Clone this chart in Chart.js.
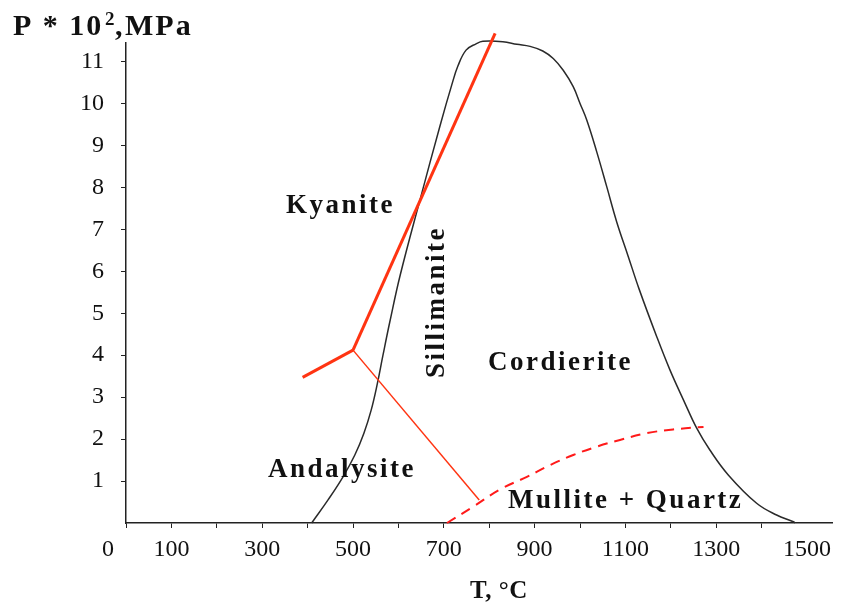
<!DOCTYPE html>
<html>
<head>
<meta charset="utf-8">
<script src="https://cdn.jsdelivr.net/npm/chart.js@4.4.1/dist/chart.umd.min.js"></script>
<style>
  html, body { margin: 0; padding: 0; background: #fff; }
  canvas { display: block; }
</style>
</head>
<body>
<canvas id="phase_graph" width="849" height="602"></canvas>
<script>
// cordierite stability envelope (T in °C, P in 10^2 MPa)
const envelopeT = [409, 445, 478, 504, 524, 540, 553, 566, 581, 604, 648, 692, 718, 731, 749, 771, 786, 830, 861, 890, 918, 941, 963, 985, 1000, 1015, 1037, 1059, 1081, 1106, 1130, 1169, 1198, 1228, 1257, 1286, 1327, 1389, 1433, 1470, 1474];
const envelopeP = [0, 0.55, 1.10, 1.62, 2.14, 2.69, 3.29, 4.00, 4.79, 5.91, 7.72, 9.48, 10.46, 10.89, 11.27, 11.42, 11.48, 11.47, 11.41, 11.36, 11.25, 11.07, 10.79, 10.40, 10.0, 9.60, 8.84, 8.01, 7.17, 6.36, 5.58, 4.44, 3.65, 2.93, 2.26, 1.74, 1.14, 0.47, 0.19, 0.03, 0];

// Al2SiO5 boundaries
const kyaSilT = [500, 813];
const kyaSilP = [4.12, 11.67];
const andKyaT = [389, 500];
const andKyaP = [3.47, 4.12];
const andSilT = [500, 778];
const andSilP = [4.12, 0.55];

// mullite + quartz boundary (dashed)
const mullT = [707, 765, 824, 883, 934, 985, 1037, 1088, 1147, 1205, 1272];
const mullP = [0, 0.39, 0.80, 1.10, 1.38, 1.62, 1.82, 1.98, 2.14, 2.23, 2.29];

const xTickLabels = [100, 300, 500, 700, 900, 1100, 1300, 1500];

function pts(xs, ys) {
    return xs.map(function (x, i) { return { x: x, y: ys[i] }; });
}

const serif = '"Liberation Serif", "Times New Roman", serif';

const labelsPlugin = {
    id: 'phaseLabels',
    afterDraw: function (chart) {
        const ctx = chart.ctx;
        const area = chart.chartArea;
        ctx.save();
        ctx.fillStyle = '#111';
        ctx.textAlign = 'left';
        ctx.textBaseline = 'alphabetic';

        // y axis title P * 10^2, MPa
        ctx.font = 'bold 30px ' + serif;
        ctx.letterSpacing = '2px';
        ctx.fillText('P * 10', 13, 35);
        ctx.font = 'bold 19px ' + serif;
        ctx.fillText('2', 105, 25);
        ctx.font = 'bold 30px ' + serif;
        ctx.fillText(',', 115, 35);
        ctx.fillText('MPa', 125, 35);

        // x axis title
        ctx.letterSpacing = '0.5px';
        ctx.font = 'bold 25px ' + serif;
        ctx.fillText('T, °C', 470, 598);

        // field names
        ctx.font = 'bold 27px ' + serif;
        ctx.letterSpacing = '2.5px';
        ctx.fillText('Kyanite', 286, 213);
        ctx.fillText('Cordierite', 488, 370);
        ctx.fillText('Andalysite', 268, 477);
        ctx.fillText('Mullite + Quartz', 508, 508);

        ctx.save();
        ctx.translate(444, 378);
        ctx.rotate(-Math.PI / 2);
        ctx.fillText('Sillimanite', 0, 0);
        ctx.restore();

        // the "0" tick label sits left of the origin
        ctx.letterSpacing = '0px';
        ctx.font = '24px ' + serif;
        ctx.textAlign = 'center';
        ctx.textBaseline = 'top';
        ctx.fillText('0', chart.scales.x.getPixelForValue(0) - 18, area.bottom + 15);
        ctx.restore();
    }
};

new Chart(document.getElementById('phase_graph'), {
    type: 'scatter',
    data: {
        datasets: [
            { data: pts(kyaSilT, kyaSilP), borderColor: '#ff3412', borderWidth: 3 },
            { data: pts(andKyaT, andKyaP), borderColor: '#ff3412', borderWidth: 3 },
            { data: pts(andSilT, andSilP), borderColor: '#ff3412', borderWidth: 1.5 },
            { data: pts(mullT, mullP), borderColor: '#ff1a1a', borderWidth: 2, borderDash: [10, 7], tension: 0.4 },
            { data: pts(envelopeT, envelopeP), borderColor: '#2a2a2a', borderWidth: 1.5, tension: 0.4 }
        ].map(function (d) {
            return Object.assign({ showLine: true, pointRadius: 0, clip: false }, d);
        })
    },
    options: {
        responsive: false,
        animation: false,
        devicePixelRatio: 1,
        layout: { padding: { top: 43, right: 17, left: 0, bottom: 0 } },
        plugins: { legend: { display: false }, tooltip: { enabled: false } },
        scales: {
            x: {
                type: 'linear',
                min: 0,
                max: 1555,
                border: { color: '#222', width: 1.5 },
                grid: {
                    drawOnChartArea: false,
                    tickLength: 5,
                    tickColor: function (c) { return c.tick && c.tick.value === 1500 ? 'rgba(0,0,0,0)' : '#222'; }
                },
                ticks: {
                    stepSize: 100,
                    includeBounds: false,
                    autoSkip: false,
                    maxRotation: 0,
                    padding: 7,
                    color: '#111',
                    font: { family: serif, size: 24 },
                    callback: function (v) { return xTickLabels.indexOf(v) >= 0 ? String(v) : ''; }
                },
                afterFit: function (s) { s.height = 79; }
            },
            y: {
                type: 'linear',
                min: 0,
                max: 11.44,
                border: { color: '#222', width: 1.5 },
                grid: {
                    drawOnChartArea: false,
                    tickLength: 5,
                    tickColor: function (c) { return c.tick && c.tick.value === 0 ? 'rgba(0,0,0,0)' : '#222'; }
                },
                ticks: {
                    stepSize: 1,
                    includeBounds: false,
                    padding: 17,
                    color: '#111',
                    font: { family: serif, size: 24 },
                    callback: function (v) { return v === 0 ? '' : String(v); }
                },
                afterFit: function (s) { s.width = 126; }
            }
        }
    },
    plugins: [labelsPlugin]
});
</script>
</body>
</html>
